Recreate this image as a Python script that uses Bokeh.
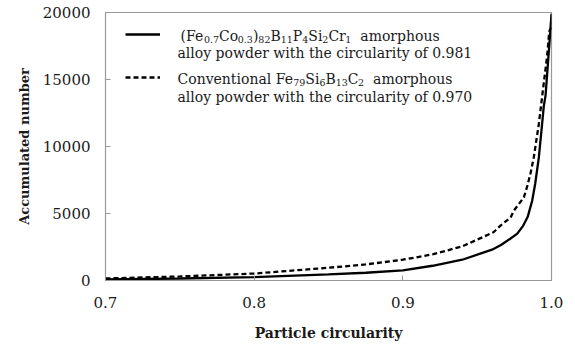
from bokeh.plotting import figure
from bokeh.models import Legend, LegendItem, Label, FixedTicker
from bokeh.embed import file_html
from bokeh.resources import INLINE

# Solid: (Fe0.7Co0.3)82B11P4Si2Cr1 powder
solid_c = [0.70, 0.75, 0.80, 0.85, 0.875, 0.90, 0.92, 0.94, 0.96, 0.966, 0.972,
           0.977, 0.981, 0.984, 0.987, 0.989, 0.9915, 0.9937, 0.9948, 0.996,
           0.998, 0.999, 1.0]
solid_v = [80, 150, 250, 450, 580, 760, 1100, 1550, 2300, 2650, 3100,
           3500, 4100, 4750, 5950, 7200, 9200, 11700, 13000, 13800,
           16800, 18300, 19900]

# Dashed: conventional Fe79Si6B13C2 powder
dash_c = [0.70, 0.75, 0.80, 0.85, 0.875, 0.90, 0.92, 0.94, 0.961, 0.9657, 0.9725,
          0.9746, 0.9814, 0.9836, 0.9859, 0.9881, 0.9915, 0.9940, 0.9971,
          0.9985, 1.0]
dash_v = [150, 300, 520, 950, 1200, 1550, 1950, 2550, 3600, 4100, 4700,
          5200, 6200, 7000, 8000, 9200, 11700, 14000, 16800,
          18600, 18900]

x_ticks = [0.7, 0.8, 0.9, 1.0]
x_tick_labels = ["0.7", "0.8", "0.9", "1.0"]
y_ticks = [0, 5000, 10000, 15000, 20000]

# legend text: (text, is_subscript) pieces for the formula lines
legend_formula_1 = [("(Fe", 0), ("0.7", 1), ("Co", 0), ("0.3", 1), (")", 0), ("82", 1),
                    ("B", 0), ("11", 1), ("P", 0), ("4", 1), ("Si", 0), ("2", 1),
                    ("Cr", 0), ("1", 1), ("  amorphous", 0)]
legend_formula_2 = [("Conventional Fe", 0), ("79", 1), ("Si", 0), ("6", 1), ("B", 0),
                    ("13", 1), ("C", 0), ("2", 1), ("  amorphous", 0)]
legend_line2 = ["alloy powder with the circularity of 0.981",
                "alloy powder with the circularity of 0.970"]

FONT = "DejaVu Serif"
GRAY = "#999999"
TXT = "#1a1a1a"
MAIN_PX = 14.0
SUB_PX = 9.5

# approximate DejaVu Serif advance widths (em)
W = {"(": .390, ")": .390, "F": .695, "e": .592, "C": .734, "o": .602, "B": .734,
     "P": .675, "S": .685, "i": .320, "r": .478, "a": .596, "m": .948, "p": .640,
     "h": .644, "u": .644, "s": .513, "n": .644, "v": .565, "t": .402, "l": .320,
     " ": .318, ".": .318}


def text_width(s, px):
    return sum(W.get(ch, .636 if ch.isdigit() else .6) for ch in s) * px


p = figure(width=575, height=345, output_backend="svg", toolbar_location=None,
           x_range=(0.7, 1.0), y_range=(0, 20000),
           min_border_left=105, min_border_right=24, min_border_top=12, min_border_bottom=65)
p.xgrid.visible = False
p.ygrid.visible = False
p.outline_line_color = GRAY
p.outline_line_width = 1.2
p.background_fill_color = "white"
p.border_fill_color = "white"

for ax in (p.xaxis[0], p.yaxis[0]):
    ax.axis_line_color = GRAY
    ax.major_tick_line_color = GRAY
    ax.major_tick_in = 5
    ax.major_tick_out = 0
    ax.minor_tick_line_color = None
    ax.major_label_text_font = FONT
    ax.major_label_text_font_size = "15px"
    ax.major_label_text_color = TXT
    ax.axis_label_text_font = FONT
    ax.axis_label_text_font_style = "bold"
    ax.axis_label_text_color = TXT

p.xaxis.axis_label_text_font_size = "14px"
p.yaxis.axis_label_text_font_size = "13px"
p.xaxis.ticker = FixedTicker(ticks=x_ticks)
p.xaxis.major_label_overrides = {t: l for t, l in zip(x_ticks, x_tick_labels)}
p.yaxis.ticker = FixedTicker(ticks=y_ticks)
p.xaxis.axis_label = "Particle circularity"
p.yaxis.axis_label = "Accumulated number"
p.xaxis.major_label_standoff = 16
p.xaxis.axis_label_standoff = 14
p.yaxis.major_label_standoff = 15
p.yaxis.axis_label_standoff = 8

r1 = p.line(solid_c, solid_v, line_color="black", line_width=2.3)
r2 = p.line(dash_c, dash_v, line_color="black", line_width=2.3, line_dash="5 3")

# legend keys only (the texts are drawn as labels below, with subscripts)
legend = Legend(items=[LegendItem(label=" ", renderers=[r1]),
                       LegendItem(label=" ", renderers=[r2])],
                location=(20, 198), border_line_color=None, background_fill_alpha=0,
                label_text_font=FONT, label_text_font_size="6px",
                glyph_width=35, glyph_height=10, label_height=10, label_standoff=0,
                padding=0, margin=0, spacing=33)
p.add_layout(legend)


def add_rich(pieces, x0, y0):
    x = x0
    for s, sub in pieces:
        px = SUB_PX if sub else MAIN_PX
        lead = len(s) - len(s.lstrip(" "))
        x += text_width(" " * lead, px)
        s = s.lstrip(" ")
        p.add_layout(Label(x=x, y=y0 - (3.5 if sub else 0), x_units="screen", y_units="screen",
                           text=s, text_font=FONT, text_font_size=f"{px}px",
                           text_color=TXT, text_baseline="alphabetic"))
        x += text_width(s, px)


add_rich(legend_formula_1, 75, 245)
add_rich(legend_formula_2, 72, 202)
for t, yb in zip(legend_line2, [228, 184]):
    p.add_layout(Label(x=72, y=yb, x_units="screen", y_units="screen",
                       text=t, text_font=FONT, text_font_size=f"{MAIN_PX}px",
                       text_color=TXT, text_baseline="alphabetic"))

open("out.html", "w").write(file_html(p, INLINE))
